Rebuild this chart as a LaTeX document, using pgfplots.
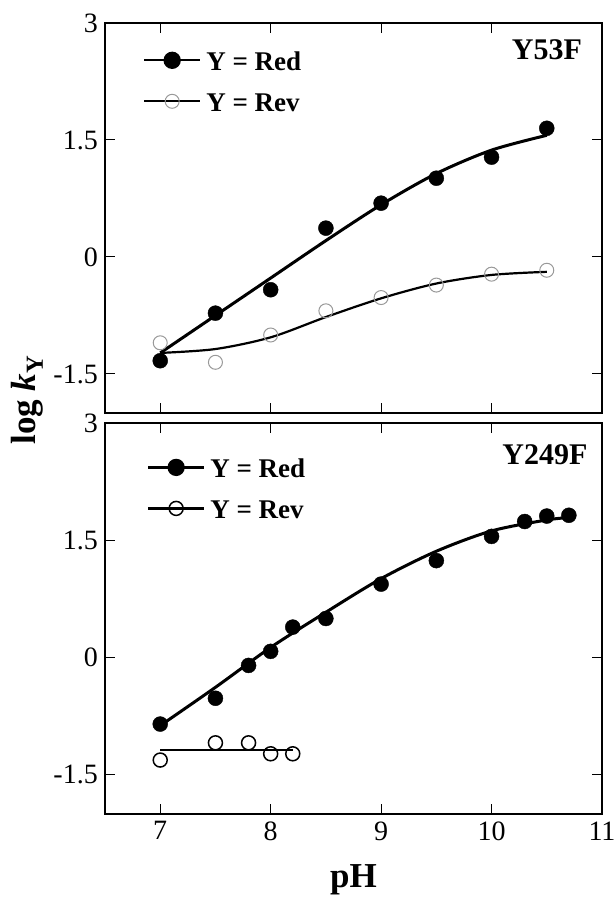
\documentclass[border=0pt]{standalone}
\usepackage{pgfplots}
\pgfplotsset{compat=1.18}
\usepackage{fontspec}
\setmainfont{Liberation Serif}

\pgfplotsset{
  kpanel/.style={
    width=497bp, height=390bp, scale only axis,
    at={(0,0)}, anchor=south west,
    xmin=6.5, xmax=11, ymin=-2, ymax=3,
    xtick={7,8,9,10,11}, ytick={-1.5,0,1.5,3},
    yticklabels={-1.5,0,1.5,3},
    axis line style={line width=2.5bp},
    major tick length=10bp,
    every tick/.style={black, line width=1bp},
    tick label style={font=\fontsize{28bp}{32bp}\selectfont},
    yticklabel style={inner sep=7bp},
    xticklabel shift=4bp,
    clip=false,
    legend cell align=left,
    legend style={draw=none, fill=none, inner sep=0pt, outer sep=0pt,
      anchor=north west, column sep=5bp, row sep=21bp,
      font=\bfseries\fontsize{27bp}{31bp}\selectfont,
      nodes={inner sep=0pt, text height=20bp, text depth=0bp}},
    legend image code/.code={%
      \draw[mark repeat=2,mark phase=2,#1]
        plot coordinates {(0bp,0bp) (28bp,0bp) (56bp,0bp)};},
  },
  fit/.style={black, line width=3bp, smooth, no marks},
  redpts/.style={only marks, mark=*, mark size=7.5bp, black},
}

\begin{document}
\begin{tikzpicture}
\useasboundingbox (-105bp,-84bp) rectangle (509bp,814bp);

% Y53F
\begin{axis}[kpanel, at={(0,401bp)}, xticklabels={},
  legend style={at={(rel axis cs:0.0765,0.93)}}]
\addlegendimage{black, line width=2.3bp, mark=*, mark size=7.5bp, mark options={solid}}
\addlegendentry{Y = Red}
\addlegendimage{black, line width=2.3bp, mark=o, mark size=7bp, mark options={black!40, line width=1bp}}
\addlegendentry{Y = Rev}
\addplot[fit] table {
7.0 -1.23
7.5 -0.75
8.0 -0.27
8.5 0.21
9.0 0.67
9.5 1.07
10.0 1.37
10.5 1.56
};
\addplot[fit, line width=2.2bp] table {
7.0 -1.23
7.5 -1.18
8.0 -1.03
8.5 -0.77
9.0 -0.53
9.5 -0.34
10.0 -0.23
10.5 -0.19
};
\addplot[redpts] table {
7.0 -1.33
7.5 -0.72
8.0 -0.42
8.5 0.37
9.0 0.69
9.5 1.01
10.0 1.28
10.5 1.65
};
\addplot[only marks, mark=o, mark size=7bp, black!40, line width=1bp] table {
7.0 -1.10
7.5 -1.35
8.0 -1.00
8.5 -0.69
9.0 -0.52
9.5 -0.36
10.0 -0.22
10.5 -0.17
};
\node[font=\bfseries\fontsize{30bp}{34bp}\selectfont] at (rel axis cs:0.889,0.931) {Y53F};
\end{axis}

% Y249F
\begin{axis}[kpanel, height=391bp, xticklabels={7,8,9,10,11},
  legend style={at={(rel axis cs:0.0845,0.912)}}]
\addlegendimage{black, line width=2.3bp, mark=*, mark size=7.5bp}
\addlegendentry{Y = Red}
\addlegendimage{black, line width=2.3bp, mark=o, mark size=7bp, mark options={line width=1.5bp}}
\addlegendentry{Y = Rev}
\addplot[fit] table {
7.0 -0.87
7.5 -0.38
8.0 0.13
8.5 0.58
9.0 1.01
9.5 1.36
10.0 1.62
10.5 1.76
10.7 1.79
};
\addplot[fit, line width=2.5bp] table {
7.0 -1.18
8.2 -1.18
};
\addplot[redpts] table {
7.0 -0.85
7.5 -0.52
7.8 -0.10
8.0 0.08
8.2 0.39
8.5 0.50
9.0 0.94
9.5 1.24
10.0 1.55
10.3 1.74
10.5 1.81
10.7 1.82
};
\addplot[only marks, mark=o, mark size=7bp, black, line width=1.5bp, fill=white] table {
7.0 -1.31
7.5 -1.09
7.8 -1.09
8.0 -1.23
8.2 -1.23
};
\node[font=\bfseries\fontsize{30bp}{34bp}\selectfont] at (rel axis cs:0.885,0.918) {Y249F};
\node[font=\bfseries\fontsize{35bp}{40bp}\selectfont] at (rel axis cs:0.5,-0.169) {pH};
\node[rotate=90, font=\bfseries\fontsize{35bp}{40bp}\selectfont]
  at (rel axis cs:-0.157,1.059) {log \textit{k}\textsubscript{Y}};
\end{axis}
\end{tikzpicture}
\end{document}
